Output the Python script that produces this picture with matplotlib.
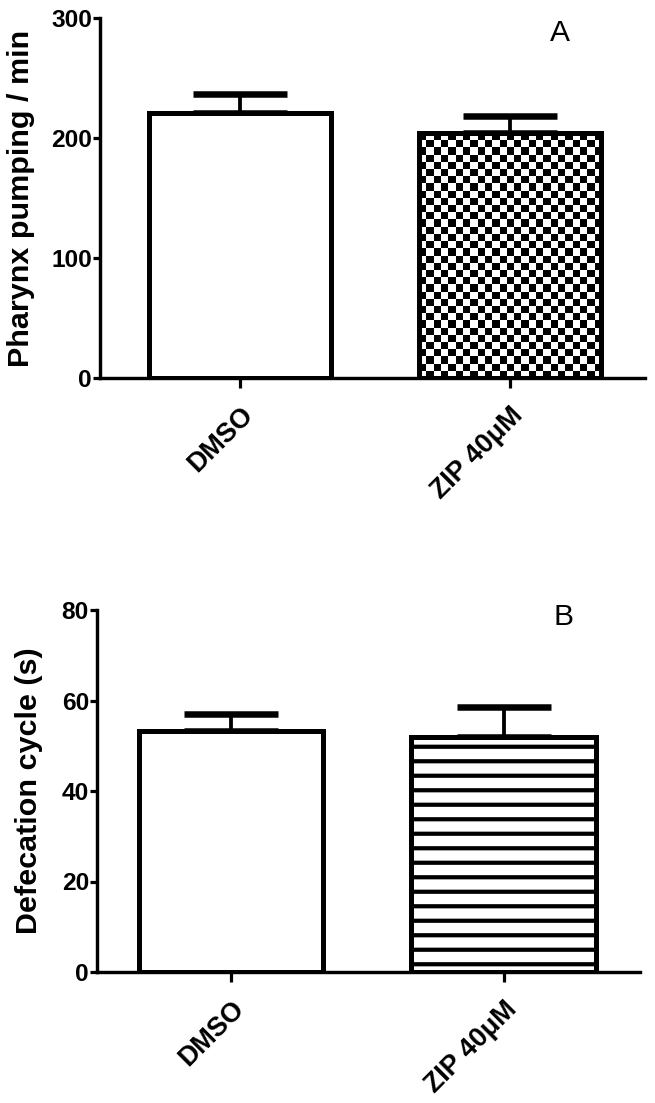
import numpy as np
import matplotlib
matplotlib.use("Agg")
import matplotlib.pyplot as plt

# ---- data ----
groups = ["DMSO", "ZIP 40\u03bcM"]
pump_mean = [221, 204]
pump_sem = [16, 14]
defec_mean = [53.3, 51.9]
defec_sem = [3.7, 6.6]
pump_ticks = [0, 100, 200, 300]
defec_ticks = [0, 20, 40, 60, 80]

DPI = 87
W, H = 655, 1103


def pt(p):
    return p * 72.0 / DPI


plt.rcParams["font.family"] = ["Liberation Sans", "DejaVu Sans"]
plt.rcParams["hatch.linewidth"] = pt(4.2)
plt.rcParams["hatch.color"] = "black"

fig = plt.figure(figsize=(W / DPI, H / DPI), dpi=DPI)
fig.patch.set_facecolor("white")

axA = fig.add_axes([100 / W, 1 - 378 / H, 545 / W, 360 / H])
axB = fig.add_axes([97 / W, 1 - 972 / H, 543 / W, 362 / H])

x = np.arange(len(groups))
BW = 0.675


def style(ax, ticks, ylabel, lblx):
    for s in ["top", "right"]:
        ax.spines[s].set_visible(False)
    for s in ["left", "bottom"]:
        ax.spines[s].set_linewidth(pt(3.4))
    ax.set_xlim(-0.52, 1.5)
    ax.set_ylim(ticks[0], ticks[-1])
    ax.set_yticks(ticks)
    ax.set_xticks(x)
    ax.set_xticklabels(groups, rotation=45, ha="right", rotation_mode="anchor",
                       fontsize=pt(27), fontweight="bold")
    ax.tick_params(axis="y", length=pt(7), width=pt(3.2), direction="out",
                   labelsize=pt(24.5), pad=pt(1))
    for lab in ax.get_yticklabels():
        lab.set_fontweight("bold")
    ax.tick_params(axis="x", length=pt(10), width=pt(3.2), direction="out", pad=pt(14))
    ax.set_ylabel(ylabel, fontsize=pt(30.5), fontweight="bold")
    ax.yaxis.set_label_coords(lblx, 0.5)
    ax.spines["left"].set_bounds(ticks[0], ticks[-1])


def errbars(ax, mean, sem):
    ax.errorbar(x, mean, yerr=[np.zeros(len(sem)), sem], fmt="none", ecolor="black",
                elinewidth=pt(3.8), capsize=pt(47), capthick=pt(6.5), zorder=2)


# ---- Panel A ----
style(axA, pump_ticks, "Pharynx pumping / min", -0.12)
errbars(axA, pump_mean, pump_sem)
barsA = axA.bar(x, pump_mean, width=BW, facecolor=["white", "none"],
                edgecolor="black", linewidth=pt(5), zorder=3)
axA.set_xlim(-0.52, 1.5)
axA.set_ylim(pump_ticks[0], pump_ticks[-1])

# checkerboard fill inside the ZIP bar
b = barsA[1]
x0, x1 = b.get_x(), b.get_x() + b.get_width()
y0, y1 = b.get_y(), b.get_y() + b.get_height()
p0 = axA.transData.transform((x0, y0))
p1 = axA.transData.transform((x1, y1))
sq = 7.15
ncol = int(round(abs(p1[0] - p0[0]) / sq))
nrow = int(round(abs(p1[1] - p0[1]) / sq))
ii, jj = np.indices((nrow, ncol))
board = ((ii + jj) % 2).astype(float)
im = axA.imshow(board, extent=(x0, x1, y0, y1), cmap="gray_r", vmin=0, vmax=1,
                interpolation="nearest", aspect="auto", zorder=2.5, origin="lower")
im.set_clip_path(b)
axA.set_xlim(-0.52, 1.5)
axA.set_ylim(pump_ticks[0], pump_ticks[-1])

# ---- Panel B ----
style(axB, defec_ticks, "Defecation cycle (s)", -0.1)
errbars(axB, defec_mean, defec_sem)
barsB = axB.bar(x, defec_mean, width=BW, facecolor="white",
                edgecolor="black", linewidth=pt(5), zorder=3)
barsB[1].set_hatch("-")
axB.set_xlim(-0.49, 1.5)
axB.set_ylim(defec_ticks[0], defec_ticks[-1])

fig.text(560 / W, 1 - 33 / H, "A", ha="center", va="center", fontsize=pt(30))
fig.text(563 / W, 1 - 617 / H, "B", ha="center", va="center", fontsize=pt(30))

fig.savefig("out.png", dpi=DPI, facecolor="white")
